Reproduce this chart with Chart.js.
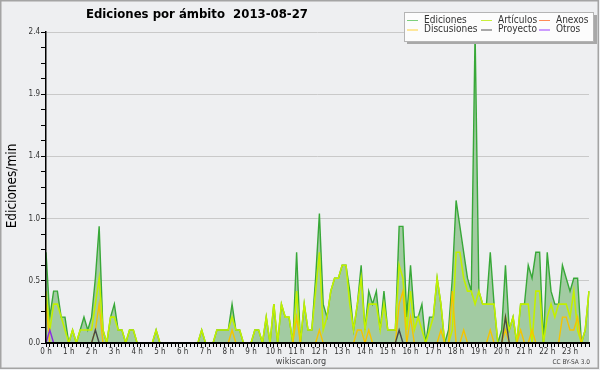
<!DOCTYPE html>
<html>
<head>
<meta charset="utf-8">
<title>Ediciones por ámbito</title>
<script src="https://cdn.jsdelivr.net/npm/chart.js@4.4.0/dist/chart.umd.min.js"></script>
<style>
  html, body { margin: 0; padding: 0; background: #eeeff1; }
  #wrap { width: 600px; height: 370px; }
</style>
</head>
<body>
<div id="wrap"><canvas id="chart" width="600" height="370"></canvas></div>
<script>
// tick labels
const hourLabels = ['0 h', '1 h', '2 h', '3 h', '4 h', '5 h', '6 h', '7 h', '8 h', '9 h', '10 h', '11 h',
    '12 h', '13 h', '14 h', '15 h', '16 h', '17 h', '18 h', '19 h', '20 h', '21 h', '22 h', '23 h'];
const yTickLabels = ['0.0', '0.5', '1.0', '1.4', '1.9', '2.4'];
const yMax = 2.4;

// ediciones/min, una muestra cada 10 minutos
const ediciones = [
    0.7, 0.2, 0.4, 0.4, 0.2, 0.2, 0, 0.1, 0, 0.1, 0.2, 0.1,
    0.2, 0.5, 0.9, 0.1, 0, 0.2, 0.3, 0.1, 0.1, 0, 0.1, 0.1,
    0, 0, 0, 0, 0, 0.1, 0, 0, 0, 0, 0, 0,
    0, 0, 0, 0, 0, 0.1, 0, 0, 0, 0.1, 0.1, 0.1,
    0.1, 0.3, 0.1, 0.1, 0, 0, 0, 0.1, 0.1, 0, 0.2, 0,
    0.3, 0, 0.3, 0.2, 0.2, 0, 0.7, 0, 0.3, 0.1, 0.1, 0.5,
    1.0, 0.3, 0.2, 0.4, 0.5, 0.5, 0.6, 0.6, 0.4, 0.1, 0.3, 0.6,
    0.1, 0.4, 0.3, 0.4, 0.1, 0.4, 0.1, 0.1, 0.1, 0.9, 0.9, 0.2,
    0.6, 0.2, 0.2, 0.3, 0, 0.2, 0.2, 0.5, 0.3, 0, 0.1, 0.5,
    1.1, 0.9, 0.7, 0.5, 0.4, 2.4, 0.4, 0.3, 0.3, 0.7, 0.3, 0,
    0.1, 0.6, 0.1, 0.2, 0, 0.3, 0.3, 0.6, 0.5, 0.7, 0.7, 0,
    0.7, 0.4, 0.3, 0.3, 0.6, 0.5, 0.4, 0.5, 0.5, 0, 0.1, 0.4
];
const articulos = [
    0.4, 0.1, 0.3, 0.3, 0.2, 0.1, 0, 0.1, 0, 0.1, 0.1, 0.1,
    0.1, 0.3, 0.5, 0.1, 0, 0.2, 0.2, 0.1, 0.1, 0, 0.1, 0.1,
    0, 0, 0, 0, 0, 0.1, 0, 0, 0, 0, 0, 0,
    0, 0, 0, 0, 0, 0.1, 0, 0, 0, 0.1, 0.1, 0.1,
    0.1, 0.2, 0.1, 0.1, 0, 0, 0, 0.1, 0.1, 0, 0.2, 0,
    0.3, 0, 0.3, 0.2, 0.2, 0, 0.4, 0, 0.3, 0.1, 0.1, 0.4,
    0.7, 0.1, 0.2, 0.4, 0.5, 0.5, 0.6, 0.6, 0.3, 0.1, 0.3, 0.5,
    0.1, 0.3, 0.3, 0.3, 0.1, 0.3, 0.1, 0.1, 0.1, 0.6, 0.5, 0.1,
    0.4, 0.1, 0.2, 0.1, 0, 0.1, 0.2, 0.5, 0.3, 0, 0, 0.1,
    0.7, 0.7, 0.5, 0.4, 0.4, 0.3, 0.4, 0.3, 0.3, 0.3, 0.3, 0,
    0, 0.2, 0.1, 0.2, 0, 0.3, 0.3, 0.3, 0, 0.4, 0.4, 0,
    0.2, 0.3, 0.2, 0.3, 0.3, 0.3, 0.2, 0.4, 0.1, 0, 0.1, 0.4
];
const discusiones = [
    0.3, 0, 0, 0, 0, 0, 0, 0, 0, 0, 0, 0,
    0, 0.1, 0.3, 0, 0, 0, 0, 0, 0, 0, 0, 0,
    0, 0, 0, 0, 0, 0, 0, 0, 0, 0, 0, 0,
    0, 0, 0, 0, 0, 0, 0, 0, 0, 0, 0, 0,
    0, 0.1, 0, 0, 0, 0, 0, 0, 0, 0, 0, 0,
    0, 0, 0, 0, 0, 0, 0.2, 0, 0, 0, 0, 0,
    0.1, 0, 0, 0, 0, 0, 0, 0, 0, 0, 0.1, 0.1,
    0, 0.1, 0, 0, 0, 0, 0, 0, 0, 0.3, 0.4, 0,
    0.2, 0, 0, 0, 0, 0, 0, 0, 0.1, 0, 0, 0.4,
    0, 0, 0.1, 0, 0, 0, 0, 0, 0, 0.1, 0, 0,
    0, 0.1, 0, 0, 0, 0.1, 0, 0, 0.1, 0, 0, 0,
    0, 0, 0, 0, 0.2, 0.2, 0.1, 0.1, 0.2, 0, 0, 0
];
const proyecto = [
    0, 0, 0, 0, 0, 0, 0, 0, 0, 0, 0, 0,
    0, 0.1, 0, 0, 0, 0, 0, 0, 0, 0, 0, 0,
    0, 0, 0, 0, 0, 0, 0, 0, 0, 0, 0, 0,
    0, 0, 0, 0, 0, 0, 0, 0, 0, 0, 0, 0,
    0, 0, 0, 0, 0, 0, 0, 0, 0, 0, 0, 0,
    0, 0, 0, 0, 0, 0, 0, 0, 0, 0, 0, 0,
    0, 0, 0, 0, 0, 0, 0, 0, 0, 0, 0, 0,
    0, 0, 0, 0, 0, 0, 0, 0, 0, 0.1, 0, 0,
    0, 0, 0, 0, 0, 0, 0, 0, 0, 0, 0, 0,
    0, 0, 0, 0, 0, 0, 0, 0, 0, 0, 0, 0,
    0, 0.2, 0, 0, 0, 0, 0, 0, 0, 0, 0, 0,
    0, 0, 0, 0, 0, 0, 0, 0, 0, 0, 0, 0
];
const otros = [
    0, 0.1, 0, 0, 0, 0, 0, 0, 0, 0, 0, 0,
    0, 0, 0, 0, 0, 0, 0, 0, 0, 0, 0, 0,
    0, 0, 0, 0, 0, 0, 0, 0, 0, 0, 0, 0,
    0, 0, 0, 0, 0, 0, 0, 0, 0, 0, 0, 0,
    0, 0, 0, 0, 0, 0, 0, 0, 0, 0, 0, 0,
    0, 0, 0, 0, 0, 0, 0, 0, 0, 0, 0, 0,
    0, 0, 0, 0, 0, 0, 0, 0, 0, 0, 0, 0,
    0, 0, 0, 0, 0, 0, 0, 0, 0, 0, 0, 0,
    0, 0, 0, 0, 0, 0, 0, 0, 0, 0, 0, 0,
    0, 0, 0, 0, 0, 0, 0, 0, 0, 0, 0, 0,
    0, 0, 0, 0, 0, 0, 0, 0, 0, 0, 0, 0,
    0, 0, 0, 0, 0, 0, 0, 0, 0, 0, 0, 0
];
const anexos = new Array(144).fill(0); // no aparece ningun valor en el grafico

// categorias: franjas de 10 minutos
const slots = [];
hourLabels.forEach((h, hi) => {
    for (let m = 0; m < 60; m += 10) slots.push(hi + ':' + String(m).padStart(2, '0'));
});

// el original usa una fuente estrecha; si no hay DejaVu Sans Condensed se reduce el tamaño
const probe = document.createElement('canvas').getContext('2d');
probe.font = '20px "DejaVu Sans Condensed", monospace';
const wCond = probe.measureText('Discusiones').width;
probe.font = '20px monospace';
const hasCondensed = Math.abs(wCond - probe.measureText('Discusiones').width) > 0.5;
const FONT = hasCondensed ? '"DejaVu Sans Condensed", "DejaVu Sans", sans-serif' : '"DejaVu Sans", sans-serif';
const K = hasCondensed ? 1 : 0.9;

function font(size, bold) {
    return (bold ? 'bold ' : '') + (size * K) + 'px ' + FONT;
}

const series = [
    { label: 'Ediciones', data: ediciones, color: '#38a838' },
    { label: 'Artículos', data: articulos, color: '#c2f000' },
    { label: 'Discusiones', data: discusiones, color: '#f5c400' },
    { label: 'Proyecto', data: proyecto, color: '#484848' },
    { label: 'Otros', data: otros, color: '#8a2be2' },
    { label: 'Anexos', data: anexos, color: '#ff7a3c' }
];

// leyenda: 2 filas x 3 columnas, como en el original
const legendRows = [['Ediciones', 'Artículos', 'Anexos'], ['Discusiones', 'Proyecto', 'Otros']];
const legendColors = { 'Ediciones': '#7ccf7c', 'Artículos': '#c8ef3a', 'Anexos': '#ff8a55',
    'Discusiones': '#ffd23a', 'Proyecto': '#555555', 'Otros': '#9b3cff' };

const decorPlugin = {
    id: 'decor',
    afterDraw(chart) {
        const ctx = chart.ctx;
        ctx.save();

        // marco exterior
        ctx.strokeStyle = '#a4a4a4';
        ctx.lineWidth = 1.5;
        ctx.strokeRect(0.75, 0.75, 597.5, 367.5);

        // titulo
        ctx.fillStyle = '#000';
        ctx.font = font(13, true);
        ctx.textBaseline = 'middle';
        ctx.textAlign = 'left';
        ctx.fillText('Ediciones por ámbito  2013-08-27', 86, 15);

        // titulo eje y
        ctx.save();
        ctx.translate(12, 186);
        ctx.rotate(-Math.PI / 2);
        ctx.textAlign = 'center';
        ctx.font = font(13.5);
        ctx.fillText('Ediciones/min', 0, 0);
        ctx.restore();

        ctx.fillStyle = '#444';
        ctx.textAlign = 'center';
        ctx.font = font(9);
        ctx.fillText('wikiscan.org', 301, 361.5);
        ctx.textAlign = 'right';
        ctx.font = font(6.5);
        ctx.fillText('CC BY-SA 3.0', 590, 362);

        // caja de leyenda con sombra
        ctx.fillStyle = '#a8a8a8';
        ctx.fillRect(407, 15, 190, 29);
        ctx.fillStyle = '#fcfcfc';
        ctx.fillRect(404, 12, 189, 29);
        ctx.strokeStyle = '#b4b4b4';
        ctx.lineWidth = 1;
        ctx.strokeRect(404.5, 12.5, 189, 29);

        const colX = [407, 481, 539];
        const rowY = [20, 29.5];
        ctx.font = font(10);
        ctx.textAlign = 'left';
        legendRows.forEach((row, r) => {
            row.forEach((name, c) => {
                ctx.strokeStyle = legendColors[name];
                ctx.lineWidth = 1;
                ctx.beginPath();
                ctx.moveTo(colX[c], rowY[r] + 0.5);
                ctx.lineTo(colX[c] + 11, rowY[r] + 0.5);
                ctx.stroke();
                ctx.fillStyle = '#333';
                ctx.fillText(name, colX[c] + 17, rowY[r]);
            });
        });
        ctx.restore();
    }
};

const datasets = series.map((s, i) => ({
    label: s.label,
    data: s.data,
    borderColor: s.color,
    backgroundColor: i === 0 ? '#a2cba2' : s.color,
    fill: i === 0 ? 'origin' : false,
    borderWidth: i === 1 ? 1.6 : 1.4,
    pointRadius: 0,
    tension: 0,
    order: series.length - i
}));

const tickFont = { size: 8 * K, family: FONT };

new Chart(document.getElementById('chart'), {
    type: 'line',
    data: { labels: slots, datasets: datasets },
    options: {
        responsive: false,
        animation: false,
        events: [],
        layout: { padding: { left: 0, top: 32, right: 11, bottom: 0 } },
        font: { family: FONT },
        plugins: {
            legend: { display: false },
            tooltip: { enabled: false }
        },
        scales: {
            x: {
                type: 'category',
                offset: false,
                grid: {
                    offset: false,
                    drawOnChartArea: false,
                    drawTicks: true,
                    tickLength: 4,
                    tickColor: '#000',
                    tickWidth: 1
                },
                border: { color: '#000', width: 2, z: 1 },
                ticks: {
                    autoSkip: false,
                    maxRotation: 0,
                    minRotation: 0,
                    padding: 0,
                    color: '#333',
                    font: tickFont,
                    callback: (v, i) => (i % 6 === 0 ? hourLabels[i / 6] : '')
                },
                afterFit: (scale) => { scale.height = 27; }
            },
            y: {
                min: 0,
                max: yMax,
                afterBuildTicks: (scale) => {
                    const t = [];
                    for (let k = 0; k <= 20; k++) t.push({ value: yMax * k / 20 });
                    scale.ticks = t;
                },
                grid: {
                    color: (c) => (c.index % 4 === 0 && c.index > 0 ? '#c9c9c9' : 'rgba(0,0,0,0)'),
                    lineWidth: 1,
                    drawTicks: true,
                    tickLength: 5,
                    tickColor: '#000',
                    tickWidth: 1
                },
                border: { color: '#000', width: 1.5, z: 1 },
                ticks: {
                    autoSkip: false,
                    padding: 1,
                    color: '#333',
                    font: tickFont,
                    callback: (v, i) => (i % 4 === 0 ? yTickLabels[i / 4] : '')
                },
                afterFit: (scale) => { scale.width = 46; }
            }
        }
    },
    plugins: [decorPlugin]
});
</script>
</body>
</html>
